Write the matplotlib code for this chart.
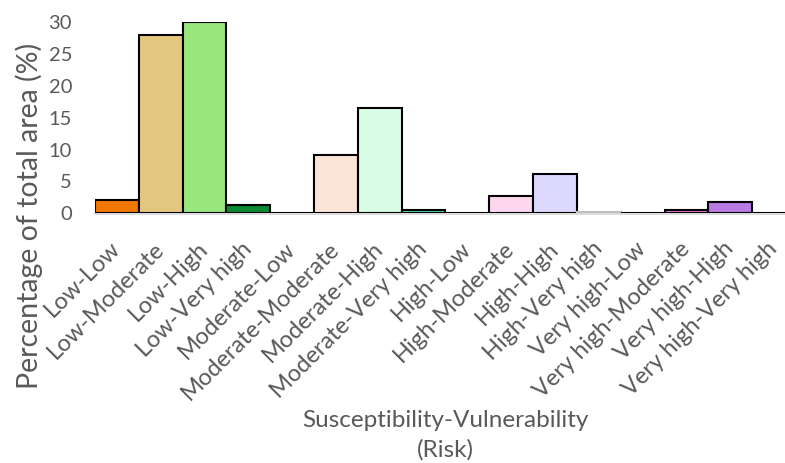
import numpy as np
import matplotlib.pyplot as plt

plt.rcParams['font.family'] = ['Lato', 'DejaVu Sans']

# Risk classes (susceptibility-vulnerability) and their share of the total area
classes = ['Low-Low', 'Low-Moderate', 'Low-High', 'Low-Very high',
           'Moderate-Low', 'Moderate-Moderate', 'Moderate-High', 'Moderate-Very high',
           'High-Low', 'High-Moderate', 'High-High', 'High-Very high',
           'Very high-Low', 'Very high-Moderate', 'Very high-High', 'Very high-Very high']
area_pct = [2.1, 28.0, 29.9, 1.35,
            0.1, 9.1, 16.5, 0.5,
            0.0, 2.7, 6.1, 0.2,
            0.0, 0.5, 1.8, 0.0]
fill = ['#F07700', '#E4C77F', '#98E67C', '#0A8932',
        '#FFFFFF', '#FDE4D8', '#D9FCE4', '#5ED4C0',
        '#FFFFFF', '#FDD7F0', '#DDD9FE', '#FFFFFF',
        '#FFFFFF', '#E27BDB', '#B87BE4', '#FFFFFF']
edge = ['black'] * 11 + ['#BFBFBF'] + ['black'] * 4

txt = '#595959'

fig = plt.figure(figsize=(7.85, 4.63), dpi=100)
ax = fig.add_axes([0.121, 0.539, 0.893, 0.414])

x = np.arange(len(classes))
ax.bar(x, area_pct, width=1.0, color=fill, edgecolor=edge, linewidth=1.5, zorder=3)

ax.set_xlim(-0.5, len(classes) - 0.5)
ax.set_ylim(0, 30)
ax.set_yticks(np.arange(0, 31, 5))
ax.set_xticks(x)
ax.set_xticklabels(classes, rotation=45, ha='right', va='center',
                   rotation_mode='anchor', fontsize=17)

ax.tick_params(axis='both', length=0, colors=txt)
ax.tick_params(axis='y', labelsize=14.5, pad=16.5)
ax.tick_params(axis='x', pad=23)

for s in ['top', 'right', 'left']:
    ax.spines[s].set_visible(False)
ax.spines['bottom'].set_color('#D9D9D9')
ax.spines['bottom'].set_linewidth(2.0)
ax.spines['bottom'].set_zorder(2)

ax.set_ylabel('Percentage of total area (%)', fontsize=20.5, color=txt)
ax.yaxis.set_label_coords(-0.074, -0.012)
ax.set_xlabel('Susceptibility-Vulnerability\n(Risk)', fontsize=17.5, color=txt,
              linespacing=1.47)
ax.xaxis.set_label_coords(0.5, -1.027)

plt.savefig('out.png', dpi=100)
